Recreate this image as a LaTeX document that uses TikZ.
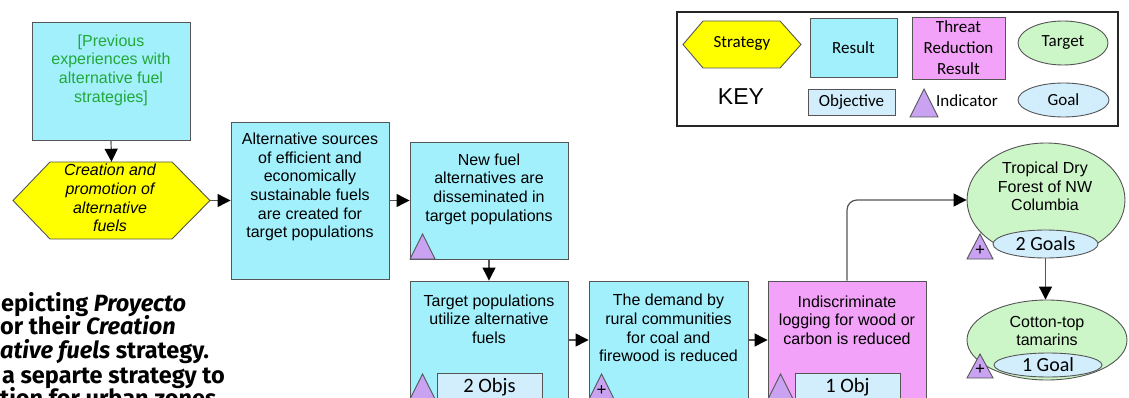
\documentclass[tikz,border=0pt]{standalone}
\usepackage{fontspec}
\setmainfont{Liberation Sans}
\newfontfamily\calf{Carlito}
\newfontfamily\capf{Fira Sans}
\usetikzlibrary{arrows.meta,shapes.geometric}
\definecolor{rescol}{HTML}{A2F0FC}
\definecolor{thrcol}{HTML}{F2A2F8}
\definecolor{tgtcol}{HTML}{CDF6C8}
\definecolor{objcol}{HTML}{D2EEFC}
\definecolor{indcol}{HTML}{C9A2F2}
\definecolor{strcol}{HTML}{FFFF00}
\definecolor{bord}{HTML}{555555}
\definecolor{grtxt}{HTML}{22A83A}
\begin{document}
\begin{tikzpicture}[x=1pt,y=-1pt,
  bx/.style={draw=bord,line width=0.9pt,inner sep=0pt},
  resbox/.style={bx,fill=rescol},
  thrbox/.style={bx,fill=thrcol},
  objbox/.style={bx,fill=objcol,font=\calf\fontsize{20.5}{22}\selectfont},
  tgt/.style={bx,ellipse,fill=tgtcol},
  goal/.style={bx,ellipse,fill=objcol,font=\calf\fontsize{20}{22}\selectfont},
  txt/.style={align=center,inner sep=0pt,font=\fontsize{16}{18.6}\selectfont},
  keytxt/.style={align=center,inner sep=0pt,font=\calf\fontsize{17}{21}\selectfont},
  ind/.style={draw=bord,line width=0.9pt,fill=indcol},
  plus/.style={inner sep=0pt,font=\fontsize{17}{17}\selectfont},
  hexa/.style={draw=bord,line width=0.9pt,fill=strcol},
  arr/.style={draw=bord,line width=1.2pt,-{Triangle[length=13pt,width=13pt,color=black]}},
  captxt/.style={anchor=base west,inner sep=0pt,font=\capf\bfseries\fontsize{23.5}{24}\selectfont}]
\useasboundingbox (0,0) rectangle (1129,398);
\clip (0,0) rectangle (1129,398);
\fill[white] (0,0) rectangle (1129,398);

% caption fragments
\node[captxt] (cap1) at (1,311) {epicting \textit{Proyecto}};
\node[captxt] (cap2) at (0,334) {or their \textit{Creation}};
\node[captxt] (cap3) at (0,358) {\textit{ative fuels} strategy.};
\node[captxt] (cap4) at (2,383) {a separte strategy to};
\node[captxt] (cap5) at (0,406) {tion for urban zones};

% previous experiences
\node[resbox,minimum width=158,minimum height=118] (prev) at (111,81) {};
\node[txt,text=grtxt] (prevt) at (111,70) {[Previous\\experiences with\\alternative fuel\\strategies]};

% strategy hexagon
\path[hexa] (13,200.5) -- (50,162) -- (172,162) -- (210,200.5) -- (172,239) -- (50,239) -- cycle;
\node[minimum width=197,minimum height=77,inner sep=0pt] (hex) at (111.5,200.5) {};
\node[txt,font=\itshape\fontsize{16}{18.6}\selectfont] (hext) at (110,198) {Creation and\\promotion of\\alternative\\fuels};

% results
\node[resbox,minimum width=158,minimum height=157] (alt) at (310,200.5) {};
\node[txt] (altt) at (310,187) {Alternative sources\\of efficient and\\economically\\sustainable fuels\\are created for\\target populations};

\node[resbox,minimum width=158,minimum height=117] (new) at (489,200.5) {};
\node[txt] (newt) at (489,189) {New fuel\\alternatives are\\disseminated in\\target populations};
\draw[ind] (410,259) -- (422.5,234) -- (435,259) -- cycle;

\node[resbox,minimum width=158,minimum height=118] (tp) at (489,340) {};
\node[txt] (tpt) at (489,319) {Target populations\\utilize alternative\\fuels};
\draw[ind] (410,399) -- (422.5,374) -- (435,399) -- cycle;
\node[objbox,minimum width=105,minimum height=28] (o2) at (489.5,387) {2 Objs};

\node[resbox,minimum width=159,minimum height=118] (dm) at (668.5,340) {};
\node[txt] (dmt) at (668.5,328) {The demand by\\rural communities\\for coal and\\firewood is reduced};
\draw[ind] (589,399) -- (601.5,374) -- (614,399) -- cycle;
\node[plus] (p1) at (601.5,391) {+};

\node[thrbox,minimum width=158,minimum height=118] (th) at (847,340) {};
\node[txt] (tht) at (847,320) {Indiscriminate\\logging for wood or\\carbon is reduced};
\draw[ind] (768,399) -- (780.5,374) -- (793,399) -- cycle;
\node[objbox,minimum width=105,minimum height=28] (o1) at (847.5,387) {1 Obj};

% targets
\node[tgt,minimum width=158,minimum height=114] (tf) at (1046,200) {};
\node[txt] (tft) at (1045,186.5) {Tropical Dry\\Forest of NW\\Columbia};
\node[goal,minimum width=105,minimum height=28] (g2) at (1045.5,244) {2 Goals};
\draw[ind] (967,259) -- (980,234) -- (993,259) -- cycle;
\node[plus] (p2) at (980,251) {+};

\node[tgt,minimum width=160,minimum height=80] (ct) at (1047,340) {};
\node[txt] (ctt) at (1047,331) {Cotton-top\\tamarins};
\node[goal,minimum width=108,minimum height=24] (g1) at (1048,365) {1 Goal};
\draw[ind] (967,378) -- (980,354) -- (993,378) -- cycle;
\node[plus] (p3) at (980,370) {+};

% connectors
\draw[arr] (prev.south) -- (hex.north);
\draw[arr] (hex.east) -- (alt.west);
\draw[arr] (alt.east) -- (new.west);
\draw[arr] (new.south) -- (tp.north);
\draw[arr] (tp.east) -- (dm.west);
\draw[arr] (dm.east) -- (th.west);
\draw[arr,rounded corners=10pt] (th.north) |- (tf.west);
\draw[arr] (g2.south) -- (g2.south |- ct.north);

% key
\node[draw=black!85,line width=1.5pt,minimum width=441,minimum height=114,inner sep=0pt] (key) at (897.5,69) {};
\path[hexa] (683,44.5) -- (703,21) -- (780,21) -- (801,44.5) -- (780,68) -- (703,68) -- cycle;
\node[keytxt] (ks) at (742,43) {Strategy};
\node[resbox,keytxt,minimum width=87,minimum height=59] (kr) at (853.5,47.5) {Result};
\node[thrbox,keytxt,minimum width=93,minimum height=62] (kt) at (958.5,48) {Threat\\Reduction\\Result};
\node[tgt,keytxt,minimum width=90,minimum height=44] (ktg) at (1063,43) {Target};
\node[inner sep=0pt,font=\fontsize{23}{23}\selectfont] (kk) at (741,97) {KEY};
\node[bx,fill=objcol,keytxt,minimum width=87,minimum height=26] (ko) at (851.5,102) {Objective};
\draw[ind] (910,117) -- (924,89) -- (938,117) -- cycle;
\node[keytxt,anchor=west] (ki) at (936,101) {Indicator};
\node[goal,keytxt,minimum width=91,minimum height=34] (kg) at (1063.5,100) {Goal};
\end{tikzpicture}
\end{document}
